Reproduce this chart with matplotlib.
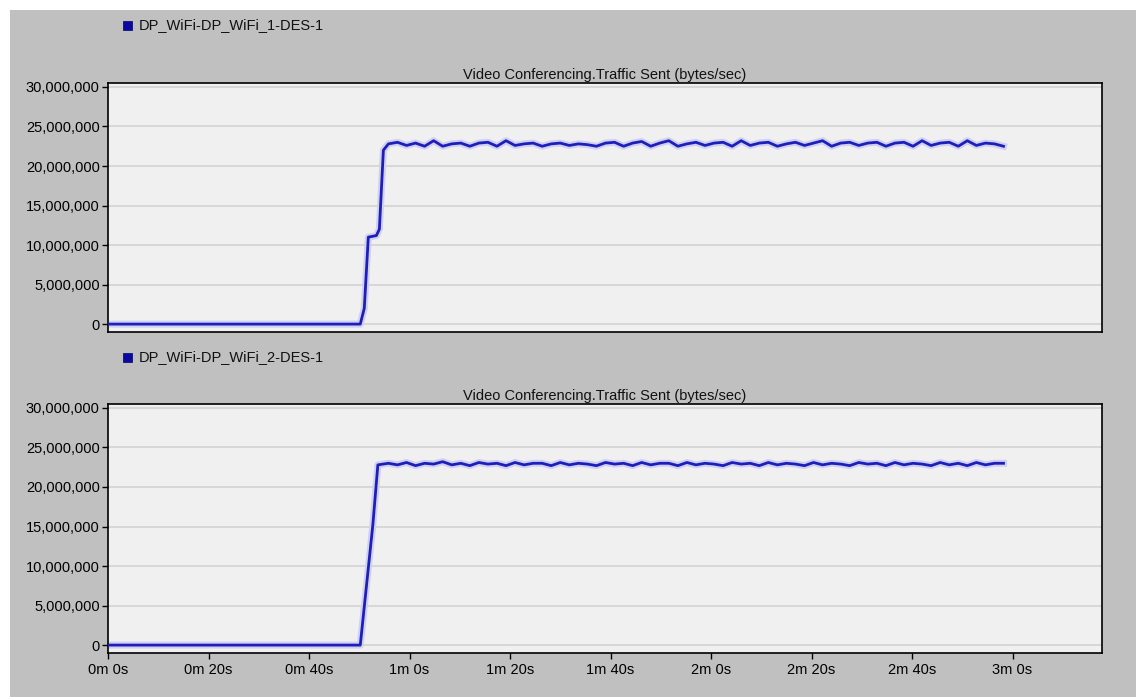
import matplotlib
matplotlib.use("Agg")
import matplotlib.pyplot as plt
from matplotlib.patches import Rectangle
from matplotlib.ticker import FuncFormatter, MultipleLocator

plt.rcParams['font.family'] = ['Liberation Sans', 'DejaVu Sans']

# series names and titles
series_names = ["DP_WiFi-DP_WiFi_1-DES-1", "DP_WiFi-DP_WiFi_2-DES-1"]
stat_title = "Video Conferencing.Traffic Sent (bytes/sec)"

# idle part + ramp-up (seconds, bytes/sec)
ramp1_t = [0.0, 50.2, 51.0, 51.8, 53.4, 54.0, 54.8]
ramp1_v = [0, 0, 2.0e6, 11.0e6, 11.2e6, 12.0e6, 22.0e6]
ramp2_t = [0.0, 50.2, 52.7, 53.7]
ramp2_v = [0, 0, 15.2e6, 22.8e6]

# steady-state sample times (s)
steady_t = [55.8, 57.6, 59.4, 61.2, 63.0, 64.8, 66.6, 68.4, 70.2, 72.0,
            73.8, 75.6, 77.4, 79.2, 81.0, 82.8, 84.6, 86.4, 88.2, 90.0,
            91.8, 93.6, 95.4, 97.2, 99.0, 100.8, 102.6, 104.4, 106.2, 108.0,
            109.8, 111.6, 113.4, 115.2, 117.0, 118.8, 120.6, 122.4, 124.2, 126.0,
            127.8, 129.6, 131.4, 133.2, 135.0, 136.8, 138.6, 140.4, 142.2, 144.0,
            145.8, 147.6, 149.4, 151.2, 153.0, 154.8, 156.6, 158.4, 160.2, 162.0,
            163.8, 165.6, 167.4, 169.2, 171.0, 172.8, 174.6, 176.4, 178.2]

# steady-state values (millions of bytes/sec)
steady1 = [22.8, 23.0, 22.6, 22.9, 22.5, 23.2, 22.5, 22.8, 22.9, 22.5,
           22.9, 23.0, 22.5, 23.2, 22.6, 22.8, 22.9, 22.5, 22.8, 22.9,
           22.6, 22.8, 22.7, 22.5, 22.9, 23.0, 22.5, 22.9, 23.1, 22.5,
           22.9, 23.2, 22.5, 22.8, 23.0, 22.6, 22.9, 23.0, 22.5, 23.2,
           22.6, 22.9, 23.0, 22.5, 22.8, 23.0, 22.6, 22.9, 23.2, 22.5,
           22.9, 23.0, 22.6, 22.9, 23.0, 22.5, 22.9, 23.0, 22.5, 23.2,
           22.6, 22.9, 23.0, 22.5, 23.2, 22.6, 22.9, 22.8, 22.5]
steady2 = [23.0, 22.8, 23.1, 22.7, 23.0, 22.9, 23.2, 22.8, 23.0, 22.7,
           23.1, 22.9, 23.0, 22.7, 23.1, 22.8, 23.0, 23.0, 22.7, 23.1,
           22.8, 23.0, 22.9, 22.7, 23.1, 22.9, 23.0, 22.7, 23.1, 22.8,
           23.0, 23.0, 22.7, 23.1, 22.8, 23.0, 22.9, 22.7, 23.1, 22.9,
           23.0, 22.7, 23.1, 22.8, 23.0, 22.9, 22.7, 23.1, 22.8, 23.0,
           22.9, 22.7, 23.1, 22.9, 23.0, 22.7, 23.1, 22.8, 23.0, 22.9,
           22.7, 23.1, 22.8, 23.0, 22.7, 23.1, 22.8, 23.0, 23.0]

x_ticks = [0, 20, 40, 60, 80, 100, 120, 140, 160, 180]

t1 = ramp1_t + steady_t
v1 = ramp1_v + [v * 1e6 for v in steady1]
t2 = ramp2_t + steady_t
v2 = ramp2_v + [v * 1e6 for v in steady2]

W, H = 1136, 697
fig = plt.figure(figsize=(W / 100, H / 100), dpi=100, facecolor="white")
# grey panel behind everything
fig.patches.append(Rectangle((10 / W, 0), 1, (H - 10) / H, transform=fig.transFigure,
                             facecolor="#c0c0c0", edgecolor="none", zorder=-10))


def px_box(left, top, right, bottom):
    return [left / W, 1 - bottom / H, (right - left) / W, (bottom - top) / H]


def time_fmt(t, pos):
    return "%dm %ds" % (int(t // 60), int(t % 60))


panels = [
    (px_box(108, 83, 1102, 332), t1, v1, series_names[0], 25, False),
    (px_box(108, 404, 1102, 653), t2, v2, series_names[1], 357, True),
]

for box, tt, vv, name, leg_y, show_x in panels:
    ax = fig.add_axes(box)
    ax.set_facecolor("#f0f0f0")
    ax.plot(tt, vv, color="#d0d0f4", lw=5, solid_joinstyle="round", zorder=2)
    ax.plot(tt, vv, color="#1e1eb8", lw=2, solid_joinstyle="round", zorder=3)
    ax.set_xlim(0, 197.8)
    ax.set_ylim(-1.0e6, 30.5e6)
    ax.yaxis.set_major_locator(MultipleLocator(5e6))
    ax.yaxis.set_major_formatter(FuncFormatter(lambda v, p: "{:,.0f}".format(v)))
    ax.grid(axis="y", color="#d2d2d2", lw=1.2)
    ax.set_axisbelow(True)
    for s in ax.spines.values():
        s.set_color("black")
        s.set_linewidth(1.2)
    ax.tick_params(axis="y", length=4, width=1, labelsize=10.5, colors="black", pad=2)
    if show_x:
        ax.set_xticks(x_ticks)
        ax.xaxis.set_major_formatter(FuncFormatter(time_fmt))
        ax.tick_params(axis="x", length=4, width=1, labelsize=10.5, pad=3)
    else:
        ax.set_xticks([])
    ax.set_title(stat_title, fontsize=10.5, pad=3, color="#111111")
    fig.patches.append(Rectangle((123 / W, 1 - (leg_y + 5) / H), 9 / W, 9 / H,
                                 transform=fig.transFigure, facecolor="#0a0aa0",
                                 edgecolor="#000060", lw=0.5))
    fig.text(139 / W, 1 - leg_y / H, name, fontsize=10.5, va="center", ha="left",
             color="#111111")

fig.savefig("out.png", dpi=100, facecolor=fig.get_facecolor())
